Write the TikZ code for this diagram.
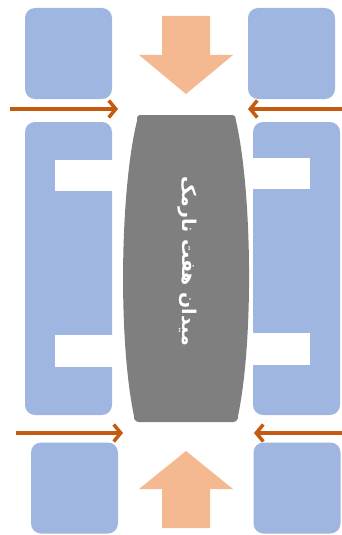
\documentclass[tikz,border=0pt]{standalone}
\usepackage{fontspec}
\newfontfamily\arabicfont[Script=Arabic]{DejaVu Sans}
\TeXXeTstate=1
\usetikzlibrary{arrows.meta}
\definecolor{padblue}{RGB}{158,182,224}
\definecolor{flowpeach}{RGB}{244,185,145}
\definecolor{roadbrown}{RGB}{197,90,17}
\definecolor{squaregray}{RGB}{127,127,127}

\begin{document}
\begin{tikzpicture}[x=1pt,y=-1pt,
    block/.style={fill=padblue,rounded corners=10pt,inner sep=0pt,minimum width=87pt,minimum height=91pt},
    wall/.style={fill=padblue,rounded corners=10pt},
    gap/.style={fill=white},
    bigarrow/.style={fill=flowpeach},
    lane/.style={draw=roadbrown,line width=3.5pt,-{Straight Barb[length=7pt,width=17pt]}}]
    \useasboundingbox (0,0) rectangle (342,535);

    \node[block] (TL) at (68.5,53.5) {};
    \node[block] (TR) at (291.5,53.5) {};
    \node[block] (BL) at (74.5,488) {};
    \node[block] (BR) at (297,488) {};

    \fill[wall] (25,122) rectangle (112,415);
    \fill[gap] (55,160) rectangle (112.5,191);
    \fill[gap] (55,335) rectangle (112.5,367);
    \fill[wall] (253,122) rectangle (340,415);
    \fill[gap] (252.5,158) rectangle (310,189);
    \fill[gap] (252.5,333) rectangle (310,365);

    \fill[bigarrow] (162,16) -- (210,16) -- (210,55) -- (233,55) -- (186,94) -- (139,55) -- (162,55) -- cycle;
    \fill[bigarrow] (162,528) -- (210,528) -- (210,489) -- (233,489) -- (186,451) -- (139,489) -- (162,489) -- cycle;

    \fill[squaregray] (140,115) -- (232,115) to[out=0,in=75] (236,121)
        .. controls (252,190) and (254,340) .. (238,416) to[out=-75,in=0] (233,422)
        -- (139,422) to[out=180,in=-105] (134,416)
        .. controls (118,340) and (120,190) .. (137,121) to[out=105,in=180] cycle;
    \node[rotate=-90,text=white,font=\arabicfont\bfseries\fontsize{19}{23}\selectfont] (midan) at (187,261) {\beginR میدان هفت نارمک\endR};

    \coordinate (L1) at (10,109);
    \coordinate (L1e) at (118,109);
    \coordinate (R1) at (342,109);
    \coordinate (R1e) at (248,109);
    \coordinate (L2) at (16,433);
    \coordinate (L2e) at (123,433);
    \coordinate (R2) at (342,433);
    \coordinate (R2e) at (254,433);

    \draw [lane] (L1) -- (L1e);
    \draw [lane] (R1) -- (R1e);
    \draw [lane] (L2) -- (L2e);
    \draw [lane] (R2) -- (R2e);
\end{tikzpicture}
\end{document}
